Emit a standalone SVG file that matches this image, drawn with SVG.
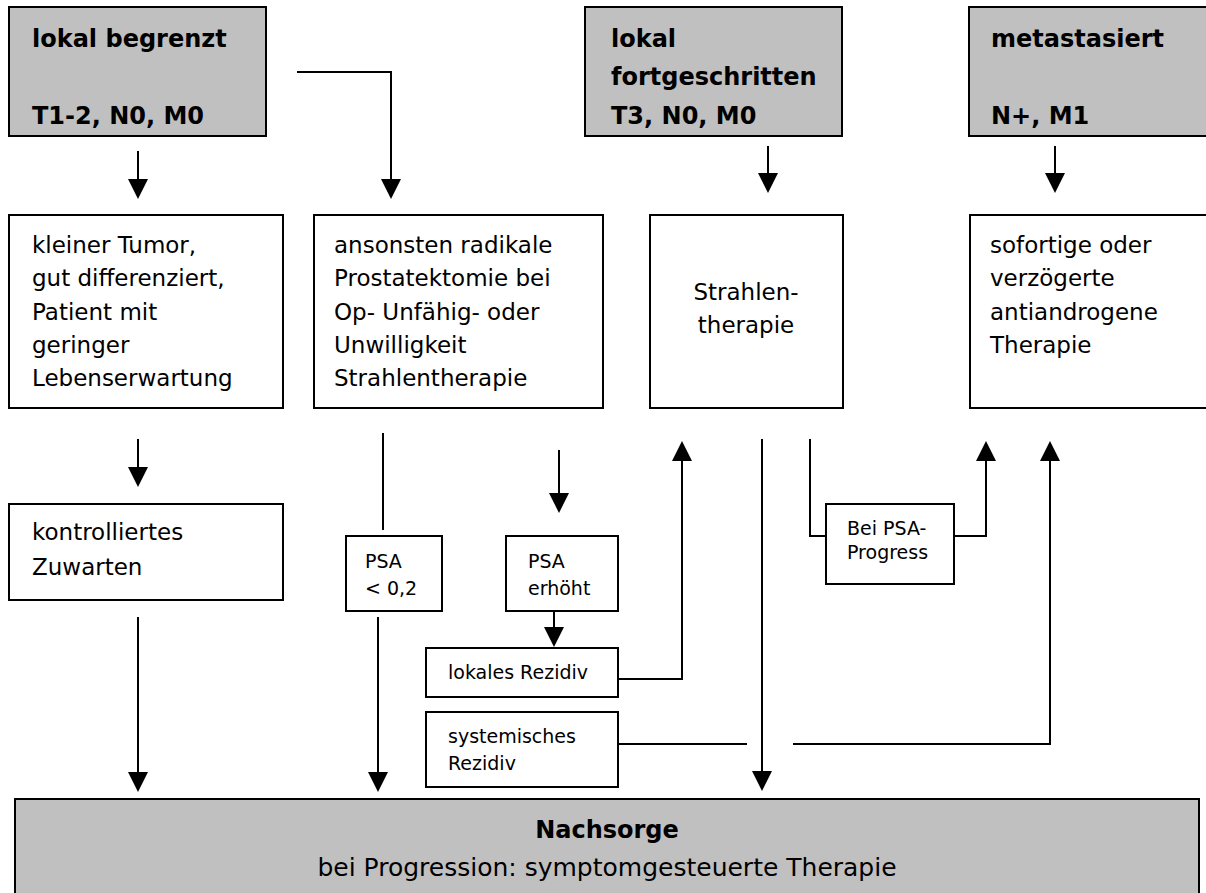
<svg xmlns="http://www.w3.org/2000/svg" width="1206" height="893" viewBox="0 0 1206 893">
<style>
.box{fill:#fff;stroke:#000;stroke-width:2}
.gbox{fill:#c0c0c0;stroke:#000;stroke-width:2}
.t{font-family:"DejaVu Sans",Verdana,sans-serif;font-size:23px;fill:#000}
.b{font-family:"DejaVu Sans",Verdana,sans-serif;font-size:24px;font-weight:bold;fill:#000}
.s{font-family:"DejaVu Sans",Verdana,sans-serif;font-size:19px;fill:#000}
.c{fill:none;stroke:#000;stroke-width:2}
</style>
<defs>
<marker id="ah" viewBox="0 0 20 20" refX="17" refY="10" markerWidth="20" markerHeight="20" markerUnits="userSpaceOnUse" orient="auto">
<path d="M0,0 L20,10 L0,20 Z" fill="#000"/>
</marker>
</defs>
<rect width="1206" height="893" fill="#fff"/>

<g id="n-lokal-begrenzt">
<rect class="gbox" x="9" y="7" width="257" height="129"/>
<text class="b" x="32" y="47">lokal begrenzt</text>
<text class="b" x="32" y="124">T1-2, N0, M0</text>
</g>
<g id="n-lokal-fortgeschritten">
<rect class="gbox" x="585" y="7" width="257" height="129"/>
<text class="b" x="611" y="47">lokal</text>
<text class="b" x="611" y="85">fortgeschritten</text>
<text class="b" x="611" y="124">T3, N0, M0</text>
</g>
<g id="n-metastasiert">
<rect class="gbox" x="969" y="7" width="246" height="129"/>
<text class="b" x="991" y="47">metastasiert</text>
<text class="b" x="991" y="124">N+, M1</text>
</g>

<g id="n-kleiner-tumor">
<rect class="box" x="9" y="215" width="274" height="193"/>
<text class="t" x="32" y="253">kleiner Tumor,</text>
<text class="t" x="32" y="286">gut differenziert,</text>
<text class="t" x="32" y="320">Patient mit</text>
<text class="t" x="32" y="353">geringer</text>
<text class="t" x="32" y="386">Lebenserwartung</text>
</g>
<g id="n-radikale">
<rect class="box" x="314" y="215" width="289" height="193"/>
<text class="t" x="334" y="253">ansonsten radikale</text>
<text class="t" x="334" y="286">Prostatektomie bei</text>
<text class="t" x="334" y="320">Op- Unfähig- oder</text>
<text class="t" x="334" y="353">Unwilligkeit</text>
<text class="t" x="334" y="386">Strahlentherapie</text>
</g>
<g id="n-strahlen">
<rect class="box" x="650" y="215" width="193" height="193"/>
<text class="t" x="746" y="300" text-anchor="middle">Strahlen-</text>
<text class="t" x="746" y="333" text-anchor="middle">therapie</text>
</g>
<g id="n-antiandrogen">
<rect class="box" x="970" y="215" width="245" height="193"/>
<text class="t" x="990" y="253">sofortige oder</text>
<text class="t" x="990" y="286">verzögerte</text>
<text class="t" x="990" y="320">antiandrogene</text>
<text class="t" x="990" y="353">Therapie</text>
</g>

<g id="n-zuwarten">
<rect class="box" x="9" y="504" width="274" height="96"/>
<text class="t" x="32" y="540">kontrolliertes</text>
<text class="t" x="32" y="575">Zuwarten</text>
</g>
<g id="n-psa-low">
<rect class="box" x="346" y="536" width="96" height="75"/>
<text class="s" x="365" y="568">PSA</text>
<text class="s" x="365" y="595">&lt; 0,2</text>
</g>
<g id="n-psa-high">
<rect class="box" x="506" y="536" width="112" height="75"/>
<text class="s" x="528" y="568">PSA</text>
<text class="s" x="528" y="595">erhöht</text>
</g>
<g id="n-lokales-rezidiv">
<rect class="box" x="426" y="648" width="192" height="49"/>
<text class="s" x="448" y="679">lokales Rezidiv</text>
</g>
<g id="n-systemisches-rezidiv">
<rect class="box" x="426" y="712" width="192" height="75"/>
<text class="s" x="448" y="743">systemisches</text>
<text class="s" x="448" y="770">Rezidiv</text>
</g>
<g id="n-psa-progress">
<rect class="box" x="826" y="504" width="128" height="80"/>
<text class="s" x="847" y="535">Bei PSA-</text>
<text class="s" x="847" y="559">Progress</text>
</g>

<g id="n-nachsorge">
<rect class="gbox" x="15" y="799" width="1184" height="110"/>
<text class="b" x="607" y="838" text-anchor="middle">Nachsorge</text>
<text class="t" x="607" y="876" text-anchor="middle" style="font-size:25px">bei Progression: symptomgesteuerte Therapie</text>
</g>

<g id="connectors">
<path class="c" d="M138,151 V196" marker-end="url(#ah)"/>
<path class="c" d="M297,72 H391 V196" marker-end="url(#ah)"/>
<path class="c" d="M768,146 V190" marker-end="url(#ah)"/>
<path class="c" d="M1055,146 V190" marker-end="url(#ah)"/>
<path class="c" d="M138,439 V484" marker-end="url(#ah)"/>
<path class="c" d="M383,433 V530"/>
<path class="c" d="M559,450 V510" marker-end="url(#ah)"/>
<path class="c" d="M618,679 H682 V444" marker-end="url(#ah)"/>
<path class="c" d="M762,439 V788" marker-end="url(#ah)"/>
<path class="c" d="M810,439 V536 H826"/>
<path class="c" d="M954,536 H986 V444" marker-end="url(#ah)"/>
<path class="c" d="M618,744 H747"/>
<path class="c" d="M793,744 H1050 V444" marker-end="url(#ah)"/>
<path class="c" d="M138,617 V789" marker-end="url(#ah)"/>
<path class="c" d="M378,617 V789" marker-end="url(#ah)"/>
<path class="c" d="M554,611 V644" marker-end="url(#ah)"/>
</g>
</svg>
